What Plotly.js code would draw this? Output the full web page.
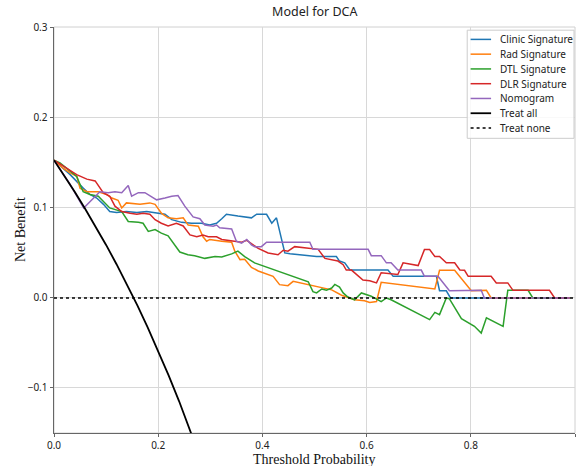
<!DOCTYPE html>
<html>
<head>
<meta charset="utf-8">
<script src="https://cdn.plot.ly/plotly-3.0.1.min.js"></script>
<style>html,body{margin:0;padding:0;background:#fff;}#chart{width:582px;height:466px;}</style>
</head>
<body>
<div id="chart"></div>
<script>
// ---- data ----
const seriesNames = ["Clinic Signature", "Rad Signature", "DTL Signature", "DLR Signature", "Nomogram", "Treat all", "Treat none"];

const clinicT  = [0,0.031,0.056,0.069,0.082,0.095,0.107,0.120,0.139,0.159,0.178,0.197,0.213,0.226,0.245,0.264,0.283,0.299,0.312,0.322,0.331,0.353,0.379,0.389,0.408,0.418,0.427,0.443,0.453,0.504,0.542,0.548,0.558,0.568,0.641,0.651,0.734,0.740,0.753,0.761,0.99];
const clinicNB = [0.153,0.137,0.122,0.115,0.111,0.104,0.096,0.095,0.096,0.095,0.096,0.094,0.093,0.087,0.084,0.083,0.083,0.081,0.083,0.088,0.093,0.091,0.089,0.093,0.093,0.083,0.089,0.050,0.049,0.046,0.046,0.041,0.039,0.031,0.031,0.024,0.024,0.008,0.008,0,0];

const radT  = [0,0.018,0.031,0.044,0.050,0.063,0.085,0.101,0.111,0.123,0.130,0.139,0.165,0.184,0.194,0.2065,0.219,0.235,0.248,0.2575,0.277,0.286,0.293,0.299,0.322,0.341,0.347,0.357,0.366,0.379,0.392,0.411,0.4205,0.433,0.449,0.459,0.533,0.552,0.577,0.596,0.606,0.619,0.628,0.731,0.740,0.769,0.801,0.830,0.839,0.99];
const radNB = [0.153,0.144,0.139,0.135,0.122,0.118,0.118,0.115,0.111,0.1085,0.100,0.1056,0.104,0.1056,0.104,0.094,0.089,0.088,0.089,0.081,0.0796,0.068,0.063,0.065,0.063,0.062,0.052,0.0426,0.043,0.034,0.030,0.026,0.024,0.0148,0.0137,0.0185,0.009,0.003,-0.002,-0.003,-0.005,-0.004,0.0174,0.010,0.0307,0.0307,0.008,0.0085,0,0];

const dtlT  = [0,0.0115,0.031,0.0435,0.056,0.069,0.085,0.0945,0.107,0.130,0.1425,0.162,0.171,0.181,0.194,0.206,0.219,0.2415,0.257,0.270,0.2895,0.309,0.322,0.341,0.353,0.366,0.379,0.385,0.488,0.497,0.504,0.514,0.523,0.533,0.539,0.548,0.555,0.564,0.577,0.590,0.609,0.628,0.638,0.647,0.721,0.731,0.740,0.753,0.759,0.782,0.807,0.820,0.830,0.862,0.871,0.910,0.919,0.99];
const dtlNB = [0.153,0.150,0.141,0.135,0.118,0.115,0.113,0.107,0.100,0.096,0.085,0.084,0.083,0.074,0.076,0.072,0.069,0.051,0.048,0.047,0.044,0.046,0.0456,0.049,0.052,0.046,0.041,0.039,0.018,0.007,0.0056,0.010,0.0085,0.011,0.015,0.012,0.0056,0.001,-0.002,0.0056,0.002,-0.004,0,-0.002,-0.024,-0.016,-0.0185,0,-0.001,-0.023,-0.0315,-0.039,-0.022,-0.0315,0.0085,0.0085,0,0];

const dlrT  = [0,0.018,0.0435,0.063,0.079,0.0945,0.107,0.117,0.130,0.146,0.159,0.171,0.184,0.194,0.206,0.219,0.235,0.248,0.261,0.274,0.286,0.296,0.312,0.322,0.334,0.347,0.360,0.370,0.379,0.392,0.411,0.430,0.440,0.449,0.462,0.507,0.520,0.536,0.545,0.555,0.561,0.571,0.584,0.593,0.606,0.619,0.628,0.660,0.670,0.699,0.711,0.721,0.731,0.740,0.753,0.769,0.779,0.788,0.795,0.839,0.849,0.871,0.881,0.951,0.961,0.99];
const dlrNB = [0.153,0.146,0.137,0.132,0.130,0.117,0.113,0.102,0.096,0.094,0.093,0.094,0.093,0.087,0.083,0.080,0.083,0.080,0.070,0.068,0.070,0.068,0.068,0.065,0.064,0.063,0.062,0.064,0.060,0.055,0.050,0.048,0.053,0.052,0.057,0.054,0.044,0.0426,0.041,0.037,0.031,0.031,0.024,0.020,0.019,0.0167,0.028,0.026,0.039,0.036,0.0537,0.0537,0.046,0.046,0.039,0.039,0.031,0.0307,0.024,0.024,0.0167,0.0167,0.0085,0.0085,0,0];

const nomoT  = [0,0.03,0.057,0.088,0.104,0.117,0.130,0.1425,0.149,0.162,0.1745,0.187,0.197,0.213,0.226,0.238,0.251,0.267,0.280,0.2895,0.3055,0.312,0.318,0.341,0.350,0.360,0.370,0.379,0.385,0.398,0.408,0.491,0.497,0.603,0.609,0.628,0.638,0.647,0.660,0.705,0.711,0.737,0.759,0.820,0.826,0.99];
const nomoNB = [0.153,0.127,0.100,0.118,0.117,0.118,0.117,0.125,0.113,0.117,0.117,0.113,0.109,0.111,0.113,0.1137,0.102,0.090,0.088,0.081,0.0796,0.081,0.078,0.0767,0.063,0.061,0.065,0.059,0.057,0.057,0.062,0.062,0.054,0.054,0.047,0.047,0.039,0.039,0.031,0.031,0.024,0.024,0.008,0.0085,0,0];

const allT  = [0,0.02,0.04,0.06,0.08,0.10,0.12,0.14,0.16,0.18,0.20,0.22,0.24,0.26,0.28];
const allNB = [0.153,0.1357,0.1177,0.0989,0.0794,0.0589,0.0375,0.0151,-0.0083,-0.0329,-0.0588,-0.0859,-0.1145,-0.1446,-0.1764];

const noneT  = [0,1];
const noneNB = [0,0];

const xTicks = [0,0.2,0.4,0.6,0.8,1.0];
const yTicks = [-0.1,0.0,0.1,0.2,0.3];

const chartTitle = "Model for DCA";
const xTitle = "Threshold Probability";
const yTitle = "Net Benefit";

// ---- styles ----
const colors = ["#1f77b4","#ff7f0e","#2ca02c","#d62728","#9467bd","#000000","#000000"];
const xs = [clinicT, radT, dtlT, dlrT, nomoT, allT, noneT];
const ys = [clinicNB, radNB, dtlNB, dlrNB, nomoNB, allNB, noneNB];

const traces = xs.map((x,i)=>({
  x: x, y: ys[i], type:'scatter', mode:'lines', name: seriesNames[i],
  line:{color:colors[i], width: i===5 ? 1.8 : 1.5, dash: i===6 ? 'dot' : 'solid'},
  showlegend:false, hoverinfo:'skip'
}));

// plot area geometry (pixels)
const L=54, R=575.5, T=27, B=433.3;
const W=582, H=466;
const px2x = p => (p-L)/(R-L);
const py2y = p => (B-p)/(B-T);

const shapes = [
  {type:'rect', xref:'paper', yref:'paper', x0:0, x1:1, y0:0, y1:1, line:{color:'#d0d0d0', width:1}, layer:'below'},
  {type:'rect', xref:'paper', yref:'paper', x0:px2x(467.6), x1:px2x(574.5), y0:py2y(138.4), y1:py2y(30.2),
   line:{color:'#cccccc', width:1}, fillcolor:'rgba(255,255,255,0.85)', layer:'above'}
];
const serif = 'Liberation Serif, Times New Roman, serif';
const annotations = [
  {xref:'paper', yref:'paper', x:0.5, y:py2y(459.5), xanchor:'center', yanchor:'middle', showarrow:false, borderpad:0,
   text:xTitle, font:{family:serif, size:14, color:'#111'}},
  {xref:'paper', yref:'paper', x:px2x(20), y:0.5, xanchor:'center', yanchor:'middle', showarrow:false, textangle:-90, borderpad:0,
   text:yTitle, font:{family:serif, size:14, color:'#111'}}
];
seriesNames.forEach((n,i)=>{
  const cy = 39.4 + i*14.78;
  shapes.push({type:'line', xref:'paper', yref:'paper', x0:px2x(471), x1:px2x(491.5), y0:py2y(cy), y1:py2y(cy),
    line:{color:colors[i], width: i===5 ? 1.8 : 1.5, dash: i===6 ? 'dot' : 'solid'}, layer:'above'});
  annotations.push({xref:'paper', yref:'paper', x:px2x(498), y:py2y(cy), xanchor:'left', yanchor:'middle',
    text:n, showarrow:false, font:{family:'Noto Sans, sans-serif', size:10, color:'#222'}});
});

const layout = {
  width: W, height: H,
  margin:{l:L, r:W-R, t:T, b:H-B},
  paper_bgcolor:'#fff', plot_bgcolor:'#fff',
  title:{text:chartTitle, x:(L+R)/2/W, xanchor:'center', y:1-12/H, yanchor:'middle', yref:'container',
         font:{family:'Noto Sans, sans-serif', size:12.5, color:'#222'}},
  xaxis:{range:[0,1], tickvals:xTicks, tickformat:'.1f', showgrid:true, gridcolor:'#d8d8d8', gridwidth:1,
         zeroline:false, showline:true, linecolor:'#666', linewidth:1, ticks:'outside', ticklen:3, tickcolor:'#666',
         tickfont:{family:'Noto Sans, sans-serif', size:10, color:'#222'}, automargin:false},
  yaxis:{range:[-0.15,0.301], tickvals:yTicks, tickformat:'.1f', showgrid:true, gridcolor:'#d8d8d8', gridwidth:1,
         zeroline:false, showline:true, linecolor:'#666', linewidth:1, ticks:'outside', ticklen:3.5, tickcolor:'#666',
         tickfont:{family:'Noto Sans, sans-serif', size:10, color:'#222'}, automargin:false},
  shapes: shapes,
  annotations: annotations,
  showlegend:false
};

Plotly.newPlot('chart', traces, layout, {staticPlot:true, displayModeBar:false});
</script>
</body>
</html>
